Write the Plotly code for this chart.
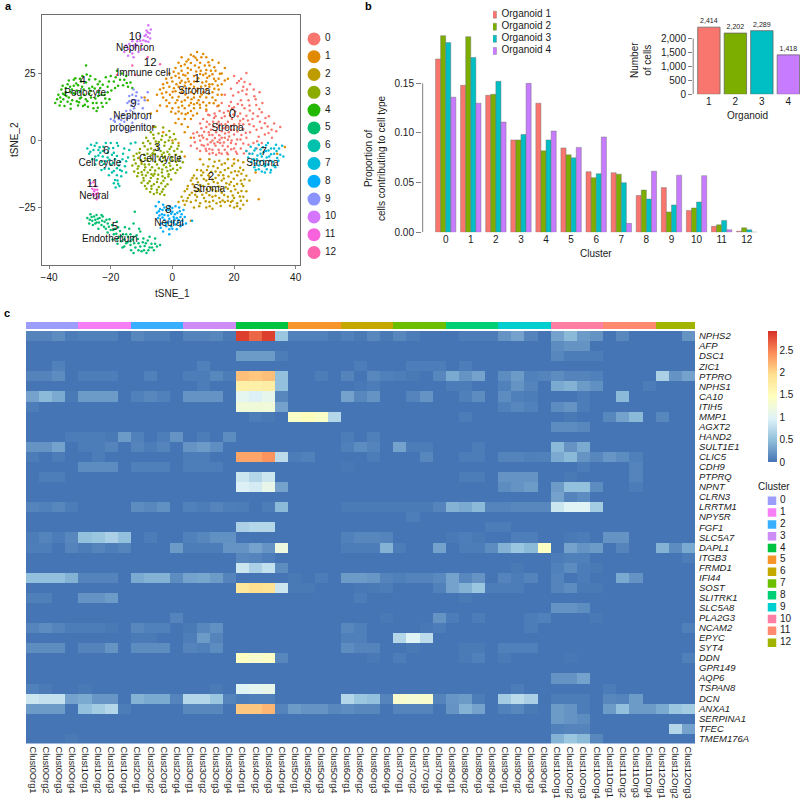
import plotly.graph_objects as go

W, H = 800, 801
FONT = "Liberation Sans"
TXT = "#1a1a1a"

# ---------- panel a data (t-SNE coordinates) ----------
hue13 = ["#F8766D","#E18A00","#BE9C00","#8CAB00","#24B700","#00BE70","#00C1AB","#00BBDA","#00ACFC","#8B93FF","#D575FE","#F962DD","#FF65AC"]
c0 = [(20,24),(22.3,23),(24,25.2),(21,21.4),(25.2,21),(23,20),(26.4,19),(28.3,18),(24,17.2),(21.4,18),(19,19.3),(17,17),(22.2,15),(27,15.4),(25,13),(29.2,14),(19,14.3),(16,14),(23.4,12),(20,12.4),(26.2,10),(29,10.5),(31.3,9),(33,6.3),(35,5),(32.2,4),(30,6.4),(28.4,7),(24,9.2),(21.2,9),(18,11),(15.3,11),(12,9.4),(10,8),(13.2,7),(16,8.4),(19.3,8),(22,7.3),(25,6),(27.3,4),(30,2.2),(32.3,1),(28,1.4),(25.2,3),(23,4.3),(21.4,5),(19,5.4),(17.2,6),(15,5),(13.3,5.2),(11,5),(9,6.3),(8,3),(10.3,3.2),(12,2),(14.2,3),(16,3.4),(18.3,3),(20,2.2),(22.4,2),(24,1),(26.3,-1),(23,-1.2),(21,0.3),(19.2,0),(17,1),(15.3,0.2),(13,0),(11.2,0.4),(9,0),(7,1),(6,-2),(8,-3),(10.2,-2),(12,-3.2),(14,-2),(16.3,-2),(18,-2.3),(20,-3),(22.2,-3),(24,-4),(21,-5),(18,-5.2),(16,-5),(14.2,-5.4),(12,-5),(11,-4),(13,-3.5),(15,-3.5),(19,-1),(17,-3.5),(9,-4),(25,-5),(27.3,-3),(29,-1),(23,8),(20,6),(17,9),(14,9),(26,8),(11,11),(22,10),(18,7),(15,7),(12,6),(10,1),(13,2),(16,1),(20,4),(23,6),(16.5,4.5),(14.5,6.2),(12.5,4),(18.4,1.5),(20.6,-1.3),(15.5,-1),(13.6,-1.2),(11.5,-1.5),(17.6,4.8),(19.8,9.7),(24.7,15),(22.7,18.5),(26.6,16.5),(9.5,-1.7),
(21.6,22.2),(23.4,21.8),(19.7,16.8),(24.2,19),(27.2,13.2),(21.2,13.6),(18.4,12.8),(25.1,11.2),(16.7,10.3),(13.7,10),(20.4,10.8),(27.7,9),(30.2,8.4),(24.5,7.4),(21.7,6.2),(18.7,9.3),(15.9,6),(13.5,8.4),(11.2,7),(26.4,5.3),(28.9,4.6),(31.2,2.8),(23.8,2.9),(21.1,3.3),(19.1,3.9),(17.1,2.6),(15.2,1.9),(13.8,0.9),(11.8,3),(9.4,4.5),(7.3,-0.7),(9.6,1.8),(12.4,-0.7),(14.7,-0.6),(16.7,-0.8),(18,0.2),(22.1,0.3),(24.7,-1.6),(27.5,-0.3),(20.6,-4.2),(23.2,-4.9),(15.2,-4.6),(10.8,-3.1),(13.1,-4.7),(17.7,-4.6),(19.1,-3.3),(19.4,12),(22.6,13.2),(28.2,11.7),(30.9,5.2),(33.7,3.4),(6.8,2.6),(8.7,1.7),(11.6,9.6),(14.6,12.7)]
c1 = [(8,33),(10,32.2),(6,32),(3,31),(5.2,30.2),(8,30),(11,31),(13,30),(2,29),(4,28.3),(7.3,28),(9,29),(12,28),(15,29),(17,27),(1,27),(3,26),(6,26.4),(9.2,26),(11,26.3),(14,26),(16,25),(-1,25),(1,24),(4.2,24.2),(7,24),(10,24.4),(12,24),(15,23),(18,23),(-2,23),(0,22),(3,22.3),(5.3,22),(8,22),(11,22),(13,21),(16,21),(-3,21),(-1,20),(2,20),(4,20.4),(7,20),(9.3,20),(12,20),(15,19),(-4,19),(-2,18),(1,18.3),(3,18),(6,18),(8,18.4),(10,18),(13,18),(16,17),(-5,17),(-3,16),(0,16),(2,16.3),(5,16),(7,16),(9,16.3),(11,16),(14,15),(-1,14),(1,14),(3,14.4),(6,14),(8,14),(10,14.2),(12,14),(15,13),(-4,13),(-7,10),(0,12),(2,12.3),(4,12),(7,12),(9,12.2),(11,11.5),(1,10),(3,10),(5,10.2),(8,10),(2,8),(4,8),(6,8),(3,6),(5,5),(-8,15),(-9,16),(-6,5),(-3,3),(4,3),(6,1),(2,-1),(0,0),(36.5,-2.5),(34,-5),(28,-22),(6,-30),(27,-12),(20,-7),(-10,-8),(9,-7),(4,-6),(5,23),(9,24.8),(2,25),(6,21),(11,19),(13,16),(4,15),(7,13.5),(10.5,28),(13.5,23),(0.5,19.5),(2.5,21.5),(8.5,15),(5,27),(12.5,26),(-2,15),(6,11),(7.5,30.8),(3.5,24.5),
(6.9,31.4),(9.4,31),(11.7,29.2),(4.6,29.4),(2.8,27.8),(6,28.9),(8.6,27.2),(13.6,27.3),(0.4,25.6),(5,25.2),(7.7,25.7),(10.8,25),(13,24.7),(15.4,24.9),(-0.3,23.4),(2.2,23.4),(8.4,23.2),(11.3,23.4),(14,22.2),(17,22.4),(-1.7,21.5),(1.3,21),(4.2,21.6),(7.1,22),(9.7,21.6),(12,21),(14.7,20.5),(-2.9,19.6),(0.1,18.2),(3.2,19.3),(5.5,19.5),(8.2,19.4),(10.7,20.4),(13.6,19.3),(-3.4,17.5),(-0.8,17),(4.2,17.1),(7,17.3),(9.5,17.1),(11.8,17.4),(14.7,17),(-1.8,12.7),(1.6,15),(6.2,15.4),(8.9,13.3),(11,13),(13.4,13.9),(3.2,12.9),(5.4,13),(-0.4,10.7),(2,10.8),(4.3,9.8),(6.7,9.3),(1,6.5),(-5,11)]
c2 = [(12,-7),(15.2,-7.6),(18,-7),(21.3,-7.5),(23,-8.2),(10,-9),(13.3,-9.6),(16,-9),(19.4,-9.5),(22,-10.2),(8,-11),(11.2,-11),(14,-11.6),(17,-11),(20.3,-11.5),(23,-11),(7,-13.1),(9.4,-13),(12,-13.6),(15,-13),(18.2,-13.5),(21,-13),(24,-13.2),(6,-15),(8.3,-15.6),(11,-15),(13.4,-15.5),(16,-15),(19,-15.5),(22.2,-15),(25,-15),(5,-17),(7.2,-17.5),(10,-17),(12.4,-17.5),(15,-17.2),(17.3,-17.5),(20,-17),(23,-17),(4,-19),(6.3,-19.5),(9,-19),(11,-19.5),(14.2,-19),(16,-19.5),(19,-19),(21.3,-19.5),(3,-21),(5,-21.5),(8,-21),(10.3,-21.5),(13,-21),(15.2,-21.5),(18,-21),(20,-21.5),(23,-21),(2,-23),(6,-23),(9,-23.5),(12,-23),(14.3,-23.5),(17,-23),(19,-23),(21,-23.5),(23,-24),(7,-25),(11,-25),(13,-25.5),(20,-25),(22,-25.5),(4,-24),(6.5,-14),(10,-12),(14,-14),(17.5,-16),(21,-16.3),(9,-16.6),(12,-20.5),(15.5,-23),(18,-18),(24,-19),(19.5,-22.5),(16.5,-13),(11.7,-13),(13,-18.4),(21,-24.6),(7.7,-19),(3.5,-22.5),
(13.7,-8),(17,-8.5),(20,-8.6),(11.6,-9.7),(14.7,-10.3),(18.1,-10.4),(21.5,-11.6),(9.3,-11.2),(12.6,-11.7),(15.6,-11.9),(19.1,-12),(22.4,-12.4),(7.9,-14.2),(10.2,-14.4),(13,-14.6),(16.7,-14.2),(19.9,-14.3),(23.4,-14.6),(6.6,-16.4),(11.7,-16.3),(14.7,-15.9),(18.5,-16.5),(22.5,-16.3),(4.8,-18.1),(8.4,-18.2),(11.2,-18.3),(15.8,-18.2),(20.4,-18.3),(22.4,-18.9),(5.6,-20.4),(7.4,-20.3),(9.7,-20.3),(14,-20.7),(16.8,-20.4),(19.6,-20.6),(21.9,-20.9),(4.6,-22.6),(7.6,-22.4),(10.8,-22.7),(13.2,-22.5),(16.3,-22.4),(18,-22.5),(22.2,-22.5),(8.7,-24.6),(12.1,-24.6),(15.7,-24.5),(18.7,-24.4),(24.2,-22.5)]
c3 = [(-5.5,5),(-3,4.8),(-1,3.5),(-7,3),(-4.5,2.6),(-2,2),(0.5,2.4),(-8.5,1),(-6,0.8),(-3.6,0.2),(-1.2,0),(1,0.4),(-9.5,-1),(-7.2,-1.2),(-5,-1.8),(-2.6,-2),(-0.4,-2.4),(2,-2),(-10.5,-3.2),(-8,-3.4),(-6,-3.8),(-3.8,-4),(-1.6,-4.2),(0.6,-4),(3,-4.2),(-11.6,-5),(-9.2,-5.4),(-7,-5.6),(-4.8,-6),(-2.4,-6),(-0.2,-6.4),(2.4,-6),(-12.4,-7.2),(-10.2,-7.4),(-8,-7.6),(-5.6,-8),(-3.4,-8),(-1,-8.4),(1.2,-8),(3.4,-8.2),(-13,-9.4),(-11,-9.6),(-8.8,-10),(-6.6,-10),(-4.4,-10.4),(-2,-10),(0.2,-10.6),(2.6,-10.2),(-12.4,-11.6),(-10,-11.8),(-8,-12),(-5.8,-12.4),(-3.4,-12),(-1.2,-12.6),(1,-12.2),(-11.4,-13.4),(-9.4,-14),(-7,-14),(-4.8,-14.4),(-2.4,-14),(-0.4,-14.6),(-10,-15.8),(-8,-16),(-6,-16.4),(-3.6,-16),(-1.6,-16.4),(-8.4,-18),(-6.8,-18),(-5,-18.4),(-3,-18.2),(-6,-20),(-4,-20),(-2.6,-20.4),(-9,-9),(-7.6,-9),(-4.2,-7.2),(-6.4,-4.8),(-9.8,-12.8),(-7.2,-11),(-4.6,-12.8),(-2.8,-4.6),(-4.4,-0.6),(-12.6,-5.8),(-0.6,-11),(-6.2,-13.2),(-3,-6.6),
(-6.2,2.1),(-3.3,1.6),(-0.8,1.2),(-7.9,-0.2),(-5.4,-0.4),(-2.4,-0.7),(0.1,-1),(-9,-2.2),(-6.9,-3),(-4.6,-3.1),(-0.9,-3.2),(1.6,-3.1),(-10.7,-4.6),(-8.1,-5),(-5.7,-5.1),(-3.4,-5.4),(-1,-5.3),(1.2,-5.4),(-11.1,-6.6),(-8.9,-6.7),(-6.7,-7),(-2.3,-7.5),(0,-7.4),(2.2,-7.3),(-11.9,-8.6),(-10,-8.7),(-5,-9),(-2.8,-9.2),(-0.7,-9.5),(1.5,-9.2),(-11.3,-10.6),(-9.1,-11),(-5.6,-11.2),(-3.3,-10.9),(-1.6,-11.4),(1.6,-11),(-11.1,-12.2),(-8.6,-13.1),(-6.8,-12.6),(-3.2,-13.4),(-1.3,-13.5),(-9.3,-15),(-7.4,-15.2),(-5,-15.5),(-2.9,-15.1),(-8.9,-17),(-6.8,-17),(-4.4,-17.4),(-2.3,-17.2),(-7.2,-19.3),(-5,-19.4),(-3.4,-19.2)]
c4 = [(-38,14),(-37,17),(-36.6,13),(-36,19),(-35.4,15.4),(-35,12.8),(-34.6,18),(-34,21),(-33.6,16),(-33,13.6),(-32.6,19),(-32,22.6),(-31.6,17.4),(-31,14.6),(-30.6,20.6),(-30,23),(-29.6,16),(-29,12.8),(-28.8,19),(-28,21.6),(-27.6,14.6),(-27,17.4),(-26.6,24),(-26,20),(-25.6,12),(-25,15.6),(-24.6,11),(-24,18),(-23.6,22),(-23,14),(-22.6,12.6),(-22,17),(-21.6,23.6),(-21,20),(-20.4,15.4),(-20,24),(-19,22),(-18.6,19.6),(-18,26),(-17,22.6),(-16.4,25),(-16,20.6),(-15,24),(-14.4,20),(-13.6,21.6),(-13,19.6),(-28,28),(-33,18),(-35,17),(-31,18.6),(-28.6,17),(-26.4,16),(-24.6,14),(-37.4,15.4),(-34,14.4),(-30,15.6),(-32,20.4),(-27,19.4),(-29.6,22),(-23.4,19.6),(-36.4,16),(-33,11.8),(-30.6,13),(-27.8,24.6),(-25,22.8),(-21.4,14),
(-36.2,14.4),(-35.5,17.4),(-34.6,19.6),(-33.2,20),(-34.4,16.6),(-32.5,15),(-32,17.6),(-31.2,21.2),(-30,18),(-29.3,20),(-30.3,14.2),(-28.1,15.4),(-28.4,13.3),(-27,22.7),(-26.5,18.4),(-25.8,14),(-25.2,19.4),(-24.1,16.6),(-24.2,21),(-24.2,12.2),(-23,17),(-22.6,20.8),(-21.8,15.6),(-21,18),(-20.6,22),(-19.8,18.6),(-18.4,23.6),(-17.6,20.4),(-15.6,22.6),(-14.8,21.4),(-29.2,24),(-31.5,23.2),(-33.6,22.4),(-35.6,20.4),(-27.4,12.6)]
c5 = [(-27.6,-29),(-26.6,-27.6),(-26,-30),(-25.4,-28.4),(-24.6,-27.8),(-24.6,-30.6),(-23.6,-29),(-23,-31.6),(-22.6,-28.4),(-22,-30.4),(-21.6,-33),(-21,-31),(-20.4,-29.4),(-20,-33.4),(-19.6,-31.6),(-19,-35),(-18.6,-33),(-18,-30.4),(-17.4,-36),(-17,-33.8),(-16.6,-37.6),(-16,-35),(-15.4,-32.4),(-15,-38.4),(-14.4,-36),(-14,-33),(-13.6,-39),(-13,-37),(-12.6,-31),(-12,-40),(-11.6,-35.4),(-11,-38.4),(-10.4,-34),(-10,-41.4),(-9.4,-36.6),(-9,-39.4),(-8.4,-42),(-8,-37.4),(-7.4,-40),(-6.8,-38.6),(-6,-41),(-5,-39.6),(-4,-39),(-25,-29.6),(-23,-27.8),(-21,-34.4),(-18,-37),(-15.6,-39.6),(-12.6,-42),(-11,-41),(-7.4,-36),(-25.8,-31.6),(-27,-31),(-24,-33),(-19.4,-37),(-16.2,-40),(-13.6,-35),(-12.2,-26.6),(-5.6,-36.6),
(-26.8,-29.6),(-26.2,-28.6),(-25,-31),(-24.2,-29.2),(-23.8,-30.6),(-22.8,-30),(-22.2,-32.2),(-21.4,-29.6),(-20.6,-32.2),(-19.2,-33.4),(-18.2,-34.8),(-17.6,-32.4),(-16.6,-35.8),(-15.6,-37),(-15,-35),(-14.6,-38),(-13.6,-37.6),(-12.4,-38.4),(-12.6,-36),(-11.2,-36.8),(-10.4,-39.6),(-9.6,-38),(-8.6,-38.4),(-7.8,-41),(-6.6,-40),(-5.6,-38.6),(-13.4,-41),(-10.8,-33),(-9.2,-41),(-17.8,-38.6)]
c6 = [(-27.6,-3),(-27,-5),(-26.4,-1.6),(-26,-7),(-25.6,-3.6),(-25,-9),(-24.6,-1),(-24,-5.6),(-23.6,-2.6),(-23,-8),(-22.6,-4),(-22,-10.6),(-21.6,-1),(-21,-6.4),(-20.6,-3),(-20,-9),(-19.6,-12),(-19,-4.6),(-18.6,-7),(-18,-10.4),(-17.6,-2),(-17,-8),(-16.6,-13.4),(-16,-5),(-15.4,-9.6),(-15,-12),(-14.4,-6.4),(-14,-3.6),(-19,-16),(-18.4,-17.6),(-17.8,-15),(-17.2,-17),(-20.6,-13),(-18,-13),(-23,-11),(-25,-6),(-21.6,-7.8),(-19.6,-5.4),(-24,-3.6),(-22.6,-6),(-20,-1),(-17,-11),(-15,-7.8),(-18,-1),(-12,-0.8),(-13.5,-1.2),
(-26.6,-4.2),(-25.2,-2),(-24.6,-7.4),(-23.4,-4.6),(-22.4,-2.4),(-22.2,-8.8),(-21,-4.6),(-20.4,-7.2),(-20.6,-10.6),(-19.2,-2.8),(-19.2,-8.4),(-18,-5.8),(-17.4,-9.4),(-16.2,-7),(-16.4,-11.4),(-15.6,-3),(-19,-11.4),(-18.6,-14.8),(-17.6,-16.2)]
c7 = [(24,-4),(24.6,-6.4),(25.4,-2.4),(25.6,-8),(26,-5),(26.6,-10),(27,-3),(27.4,-7),(28,-1.6),(28,-9.4),(28.6,-5),(29,-11.6),(29.4,-2.6),(29.6,-7.6),(30,-12),(30.4,-4),(31,-9),(31,-1),(31.4,-6),(32,-11),(32,-3),(32.6,-8),(33,-5),(33.4,-10),(33.6,-1.6),(34,-6.6),(34.6,-3),(35,-5.4),(35.6,-2),(36,-6),(29,-6),(30,-9.6),(27,-8.6),(28.6,-3.4),(31.6,-7.6),(33,-3),(26.2,-7),(30.6,-6.4),
(25,-5),(26.6,-3.8),(27.6,-5.6),(28.4,-7.8),(28,-10.8),(29.6,-4.4),(30.4,-1.8),(30.6,-10.8),(31.2,-3.8),(32,-5.2),(32.8,-9.4),(33.8,-4),(34.4,-7.6),(29.8,-8.8),(27,-11),(31.8,-12)]
c8 = [(-5.4,-24.6),(-5,-27),(-4.6,-29),(-4,-25.6),(-3.6,-31),(-3.4,-27.6),(-3,-24),(-2.6,-29.6),(-2,-26),(-2,-32),(-1.4,-28),(-1,-24.6),(-0.6,-30.4),(0,-26.6),(0,-33),(0.4,-28.6),(1,-24.6),(1,-31.4),(1.6,-27),(2,-29.6),(2.2,-25),(2.6,-32),(3,-27.6),(3.2,-30),(3.6,-26),(4,-28.6),(-4.4,-23),(-1,-35),(-3,-34),(1.4,-33.2),(-1.6,-30.6),(0.6,-29.4),(-3.2,-28.8),(-0.4,-27.4),(1.8,-30.6),(4.4,-31),(6.4,-30),
(-4.4,-26.4),(-4.2,-28),(-3.2,-26),(-2.6,-27.8),(-2.6,-25),(-2.2,-31),(-1.2,-26),(-1,-29.2),(-0.4,-32),(0,-25.2),(0.8,-27.6),(0.4,-30.6),(1.4,-29),(2.4,-26.4),(2.6,-28.6),(3.4,-31.4),(-3.8,-32.6),(-1,-33.2)]
c9 = [(-20,8),(-19,7.4),(-18.4,9),(-17.4,8),(-17,6),(-16,9.6),(-15.6,7),(-15,11),(-15,4.4),(-14.6,14),(-14,16.6),(-14,9),(-13.4,13),(-13,17),(-13,6.6),(-12.4,12),(-12,15),(-12,8),(-11.6,18),(-11,13.6),(-11,10),(-10,16),(-10,5.6),(-9.6,12),(-8.6,8),(-9,15),(-16.6,3.6),(-13.6,3.4),(-12.6,19),(-8,18),
(-14,14.6),(-13,15),(-12.6,13.8),(-11.8,16.6),(-13.6,11.2),(-12.2,10),(-16.6,7.6),(-18.6,7),(-14.8,8.2),(-11,14.8)]
c10 = [(-15.6,33),(-15,35.4),(-14.4,31.6),(-14,36),(-13.6,33.6),(-13,37),(-12.6,31),(-12,34.6),(-11.4,37),(-11,33),(-10.6,39),(-10,36),(-9.6,34),(-9,39),(-8.6,37),(-8.4,41),(-8,38.6),(-7.8,43),(-7.4,40),(-7.2,38),(-7,41.4),(-13,32.4),(-11.6,35.6),(-9.4,37.4),(-7.8,36.8),(-8,40.4),(-8.6,39.4),(-10.4,37.2),(-12.6,35.4),(-14.4,34.2)]
c11 = [(-26.6,-16),(-26,-18),(-25.6,-15.6),(-25.4,-19),(-25,-17),(-24.8,-20),(-24.4,-18.4),(-24,-21),(-25.8,-20),(-24.6,-22),(-25.2,-18.4),(-25.4,-20.6),(-24.2,-19.6)]
c12 = [(-18,24.4),(-13,28),(-4,28.4),(-12,24.4),(-8,31)]
cluster_points = [c0,c1,c2,c3,c4,c5,c6,c7,c8,c9,c10,c11,c12]
cluster_labels = [str(i) for i in range(13)]
tsne_text = [("10",-12.1,38.7,11.5),("Nephron",-12.1,34.3,10),("12",-7.2,28.7,11.5),("Immune cell",-9.4,24.8,10),("1",8,22.9,11.5),("Stroma",7.1,18.4,10),("4",-29.1,22.1,11.5),("Podocyte",-28.3,17.5,10),("9",-12.6,13.6,11.5),("Nephron",-13,9,10),("progenitor",-13,4.4,10),("0",19.5,9.5,13),("Stroma",17.9,4.4,10),("3",-4.9,-2.7,11.5),("Cell cycle",-3.9,-7.3,10),("6",-21.5,-3.9,11.5),("Cell cycle",-23.5,-8.6,10),("7",29.6,-4.5,11.5),("Stroma",29.2,-8.6,10),("2",12.5,-13.8,11.5),("Stroma",11.9,-18.3,10),("11",-25.9,-16.4,11.5),("Neural",-25.4,-21,10),("8",-1.3,-26,11.5),("Neural",-1.1,-31,10),("5",-18.6,-32.3,11.5),("Endothelium",-20.3,-36.8,10)]

# ---------- panel b data ----------
org_names = ["Organoid 1","Organoid 2","Organoid 3","Organoid 4"]
org_colors = ["#F8766D","#7CAE00","#00BFC4","#C77CFF"]
org1 = [.1745,.148,.138,.093,.130,.085,.061,.060,.037,.045,.022,.006,.001]
org2 = [.198,.197,.139,.093,.082,.078,.055,.0585,.0425,.0205,.0245,.0075,.0045]
org3 = [.191,.176,.152,.0985,.093,.075,.059,.050,.0335,.0275,.0305,.012,.0025]
org4 = [.136,.130,.111,.150,.102,.0855,.096,.009,.0615,.0575,.057,.0025,0]
cells = [2414,2202,2289,1418]

# ---------- panel c data ----------
genes = ["NPHS2","AFP","DSC1","ZIC1","PTPRO","NPHS1","CA10","ITIH5","MMP1","AGXT2","HAND2","SULT1E1","CLIC5","CDH9","PTPRQ","NPNT","CLRN3","LRRTM1","NPY5R","FGF1","SLC5A7","DAPL1","ITGB3","FRMD1","IFI44","SOST","SLITRK1","SLC5A8","PLA2G3","NCAM2","EPYC","SYT4","DDN","GPR149","AQP6","TSPAN8","DCN","ANXA1","SERPINA1","TFEC","TMEM176A"]
columns = [f"Clust{c}Org{o}" for c in range(12) for o in (1,2,3,4)] + [f"Clust12Org{o}" for o in (1,2,3)]
column_cluster = [c for c in range(12) for _ in range(4)] + [12,12,12]
expr = {
"NPHS2":{0:.1,1:.1,2:.15,3:.05,4:.08,5:.08,6:.08,8:.12,9:.08,10:.08,12:.1,13:.1,14:.12,15:.03,16:2.85,17:2.65,18:2.85,19:.55,20:.08,21:.08,22:.08,23:.03,24:.08,25:.03,26:.12,27:.03,28:.12,29:.05,33:.05,34:.05,35:.05,36:.2,37:.3,38:.1,40:.3,41:.45,42:.25,43:.2,45:.12,50:.2},
"AFP":{40:.15,41:.2,42:.2},
"DSC1":{16:.25,17:.25,18:.25,19:.05,40:.12,41:.05,42:.05,43:.05},
"ZIC1":{2:.08,13:.08,25:.05,29:.06,30:.06,31:.06,33:.06},
"PTPRO":{0:.1,1:.1,2:.15,4:.06,5:.06,6:.06,9:.08,12:.06,13:.05,14:.12,15:.05,16:2.15,17:2.1,18:2.15,19:.5,22:.05,24:.1,26:.12,27:.08,28:.06,29:.03,31:.12,32:.35,33:.2,34:.3,36:.15,37:.25,38:.08,39:.1,40:.15,41:.1,42:.1,43:.08,48:.65,49:.2,50:.3},
"NPHS1":{13:.05,16:1.7,17:1.7,18:1.75,19:.5,25:.02,26:.05,32:.05,33:.05,36:.08,37:.2,38:.1,40:.35,41:.4,42:.25,43:.18,47:.05},
"CA10":{0:.3,1:.45,2:.35,3:.03,4:.25,5:.25,6:.25,8:.08,9:.12,10:.08,12:.2,13:.2,14:.2,16:1.05,17:.95,18:1.08,19:.12,24:.3,25:.12,26:.2,29:.1,30:.2,33:.07,34:.15,36:.15,37:.07,38:.05,42:.05,45:.45},
"ITIH5":{0:.06,16:1.25,17:1.25,18:1.25,19:.3,36:.07,37:.12,38:.08,40:.15,41:.2,42:.05},
"MMP1":{17:.06,18:.03,20:1.4,21:1.5,22:1.4,23:.7,33:.05,41:.03,44:.12,45:.3,46:.45,48:.12},
"AGXT2":{40:.15,41:.15,42:.12},
"HAND2":{3:.05,4:.05,5:.05,6:.03,7:.25,8:.08,10:.06,11:.2,13:.05,15:.15,24:.05,26:.07},
"SULT1E1":{0:.2,1:.2,2:.3,4:.05,5:.05,6:.1,8:.1,9:.05,10:.1,12:.2,13:.25,14:.17,24:.07,25:.15,26:.1,28:.3,29:.05,30:.05,34:.05,40:.45,41:.2,42:.35},
"CLIC5":{0:.05,2:.05,5:.05,12:.05,13:.05,16:2.3,17:2.3,18:2.4,19:.75,20:.05,21:.08,26:.05,30:.12,33:.05,34:.05,36:.1,37:.1,38:.07,39:.08,40:.35,41:.45,42:.2,43:.12,44:.22,45:.15,46:.07},
"CDH9":{4:.15,5:.15,6:.15,8:.07,9:.07,10:.07,12:.06,13:.06,14:.06,24:.02,42:.05,46:.1},
"PTPRQ":{1:.06,2:.06,16:.85,17:.7,18:.85,33:.05,34:.05,36:.2,37:.2,38:.2,41:.03,46:.1},
"NPNT":{16:.95,17:.9,18:1.1,19:.3,36:.15,37:.2,38:.25,40:.25,41:.5,42:.5,43:.15,46:.05},
"CLRN3":{40:.3,41:.1,42:.15},
"LRRTM1":{0:.1,1:.08,2:.12,3:.05,8:.15,9:.12,10:.18,12:.08,13:.05,14:.1,15:.06,16:.05,18:.05,19:.45,24:.04,25:.04,26:.04,27:.04,28:.04,29:.04,30:.04,31:.1,32:.4,33:.35,34:.45,35:.1,36:.1,37:.12,38:.12,39:.12,40:.85,41:1.0,42:1.0,43:.6},
"NPY5R":{29:.06},
"FGF1":{16:.65,17:.7,18:.7,35:.05,36:.05},
"SLC5A7":{0:.05,1:.1,2:.05,3:.12,4:.5,5:.55,6:.65,7:.5,9:.05,12:.08,13:.12,14:.18,15:.18,24:.08,25:.12,26:.12,27:.1,32:.03,33:.06,34:.03,37:.06,38:.06,41:.03,42:.05,44:.2,45:.2},
"DAPL1":{0:.06,1:.06,3:.1,4:.05,5:.1,6:.06,7:.1,11:.25,12:.05,13:.05,14:.05,15:.2,16:.2,17:.3,18:.2,19:1.2,24:.05,25:.05,26:.05,27:.4,28:.05,31:.3,33:.05,34:.05,35:.15,36:.4,37:.55,38:.45,39:1.45,41:.3,42:.2,43:.25,45:.1,48:.4,49:.15,50:.35},
"ITGB3":{16:.12,17:.1,18:.06,40:.05,41:.07,42:.07,50:.05},
"FRMD1":{16:.85,17:.65,18:.8,19:.15,37:.03,40:.08,41:.15,42:.05,43:.03},
"IFI44":{0:.5,1:.5,2:.5,3:.4,4:.1,5:.1,6:.1,8:.35,9:.4,10:.4,11:.15,12:.3,13:.33,14:.25,15:.1,20:.03,22:.05,24:.25,25:.25,26:.22,27:.1,28:.07,29:.1,30:.1,31:.13,32:.3,33:.12,34:.2,36:.1,37:.05,38:.1,40:.1,42:.05,45:.35,46:.2},
"SOST":{16:1.85,17:1.95,18:1.9,19:.85,20:.03,21:.03,25:.02,26:.03,27:.05,31:.08,32:.3,33:.4,34:.55,35:.05,36:.05,37:.05,40:.1,41:.15,42:.03,43:.03},
"SLITRK1":{0:.07,1:.07,4:.2,5:.2,6:.25,25:.05,33:.03},
"SLC5A8":{40:.2,41:.2,42:.15},
"PLA2G3":{11:.1,27:.03,31:.2,32:.05,34:.05,38:.05,39:.08,43:.03},
"NCAM2":{0:.1,1:.15,2:.1,3:.05,4:.05,5:.05,6:.03,8:.12,9:.08,10:.08,12:.03,13:.12,14:.18,24:.12,25:.07,30:.02,31:.05,38:.05,50:.07},
"EPYC":{8:.04,9:.04,12:.06,13:.25,14:.1,24:.07,25:.07,28:.7,29:1.0,30:.75},
"SYT4":{0:.15,1:.15,2:.15,4:.1,5:.1,6:.2,8:.15,9:.15,10:.15,12:.1,13:.07,14:.15,24:.15,25:.1,26:.1,29:.03,33:.04,34:.04,36:.08,37:.08,38:.07},
"DDN":{16:1.45,17:1.35,18:1.4,19:.12,26:.03,28:.05,33:.04,34:.08,36:.04,41:.02,50:.07},
"GPR149":{},
"AQP6":{40:.2,41:.2,42:.3},
"TSPAN8":{0:.08,1:.04,4:.03,14:.04,16:1.0,17:1.05,18:1.1,37:.05,44:.05},
"DCN":{0:.85,1:.8,2:.8,3:.3,4:.35,5:.22,6:.22,8:.4,9:.35,10:.35,11:.1,12:.7,13:.7,14:.55,15:.1,16:.05,17:.08,18:.08,24:.7,25:.55,26:.5,27:.1,28:1.35,29:1.3,30:1.35,31:.1,32:.22,33:.25,34:.05,36:.6,37:.75,38:.65,40:.05,41:.05,42:.05,44:.12,45:.1,46:.25},
"ANXA1":{0:.25,1:.25,2:.25,4:.5,5:.6,6:.7,7:.05,12:.12,13:.12,14:.12,16:2.1,17:2.1,18:2.2,19:.1,20:.25,21:.2,22:.2,23:.12,24:.15,25:.12,26:.12,28:.1,29:.1,30:.1,32:.2,33:.4,34:.3,36:.08,37:.12,38:.03,40:.25,41:.2,42:.05,44:.25,45:.5,46:.25,47:.25,48:.35,49:.55,50:.6},
"SERPINA1":{40:.25,41:.2,42:.15},
"TFEC":{40:.08,41:.1,42:.1,49:.7,50:.3},
"TMEM176A":{3:.03,40:.4,41:.55,42:.45,43:.12},
}
z = [[expr[g].get(c, 0.0) for c in range(len(columns))] for g in genes]
bar_colors = ["#9C9CFA","#F77FF6","#38AEFF","#CE8DF6","#00C33F","#F6952B","#C4A800","#6CBE00","#00CF75","#00CFCF","#FF7FA4","#FF8A70","#A0B400"]
heat_scale = [[0,"#4575B4"],[1/6,"#91BFDB"],[2/6,"#E0F3F8"],[3/6,"#FFFFBF"],[4/6,"#FEE090"],[5/6,"#FC8D59"],[1,"#D73027"]]

# ---------- layout helpers (pixel boxes to paper fractions) ----------
def dx(a, b): return [a / W, b / W]
def dy(top, bottom): return [1 - bottom / H, 1 - top / H]
def label(x, y, text, size=10, angle=0, anchor="center", weight=None):
    return dict(xref="paper", yref="paper", x=x / W, y=1 - y / H, text=text, showarrow=False, textangle=angle,
                xanchor=anchor, yanchor="middle", font=dict(size=size, family=FONT, color="#000" if weight else TXT))

fig = go.Figure()
BLANK = dict(showgrid=False, zeroline=False, showticklabels=False, ticks="", showline=False)

# panel a
for i, pts in enumerate(cluster_points):
    fig.add_trace(go.Scatter(x=[p[0] for p in pts], y=[p[1] for p in pts], mode="markers", xaxis="x", yaxis="y",
                             marker=dict(size=2.5, color=hue13[i], line_width=0), showlegend=False))
fig.add_trace(go.Scatter(x=[t[1] for t in tsne_text], y=[t[2] for t in tsne_text], text=[t[0] for t in tsne_text], mode="text",
                         xaxis="x", yaxis="y", textposition="middle center", showlegend=False,
                         textfont=dict(size=[t[3] for t in tsne_text], family=FONT, color="#111")))
# panel a legend
fig.add_trace(go.Scatter(x=[9]*13, y=list(range(13)), mode="markers", xaxis="x2", yaxis="y2", showlegend=False,
                         marker=dict(size=13, color=hue13, line_width=0)))
fig.add_trace(go.Scatter(x=[20]*13, y=list(range(13)), text=cluster_labels, mode="text", xaxis="x2", yaxis="y2", showlegend=False,
                         textposition="middle right", textfont=dict(size=10, family=FONT, color=TXT)))
# panel b
for name, col, vals in zip(org_names, org_colors, [org1, org2, org3, org4]):
    fig.add_trace(go.Bar(x=list(range(13)), y=vals, name=name, marker=dict(color=col, line=dict(color="rgba(110,110,110,0.55)", width=0.8)),
                         xaxis="x3", yaxis="y3", showlegend=False))
# panel b legend
for i, (name, col) in enumerate(zip(org_names, org_colors)):
    fig.add_trace(go.Scatter(x=[0], y=[i], mode="markers", xaxis="x6", yaxis="y6", showlegend=False,
                             marker=dict(symbol="square", size=7, color=col, line=dict(color="rgba(110,110,110,0.6)", width=0.6))))
    fig.add_trace(go.Scatter(x=[8.5], y=[i], mode="text", text=[name], textposition="middle right", xaxis="x6", yaxis="y6", showlegend=False,
                             textfont=dict(size=10, family=FONT, color=TXT)))
# inset
fig.add_trace(go.Bar(x=[1,2,3,4], y=cells, xaxis="x4", yaxis="y4", showlegend=False, width=0.845,
                     marker=dict(color=org_colors, line=dict(color="rgba(100,100,100,0.75)", width=1)),
                     text=[f"{c:,}" for c in cells], textposition="outside", cliponaxis=False,
                     textfont=dict(size=7, family=FONT, color=TXT)))
# heatmap
fig.add_trace(go.Heatmap(z=z, x=list(range(len(columns))), y=list(range(len(genes))), xaxis="x5", yaxis="y5", zmin=0, zmax=2.93,
                         colorscale=heat_scale, xgap=0, ygap=0,
                         colorbar=dict(x=768/W, xanchor="left", xpad=0, ypad=0, y=1-331/H, yanchor="top", len=131/H, lenmode="fraction",
                                       thickness=9, thicknessmode="pixels", outlinewidth=0, tickvals=[0,.5,1,1.5,2,2.5],
                                       ticktext=["0","0.5","1","1.5","2","2.5"], ticks="", tickfont=dict(size=10, family=FONT, color=TXT))))
# annotation strip
n = len(bar_colors)
strip_scale = []
for i, c in enumerate(bar_colors):
    strip_scale += [[i / n, c], [(i + 1) / n, c]]
fig.add_trace(go.Heatmap(z=[column_cluster], x=list(range(len(columns))), y=[0], xaxis="x7", yaxis="y7", zmin=-0.5, zmax=12.5,
                         colorscale=strip_scale, showscale=False))
# cluster legend
fig.add_trace(go.Scatter(x=[12]*13, y=list(range(13)), mode="markers", xaxis="x8", yaxis="y8", showlegend=False,
                         marker=dict(symbol="square", size=8.5, color=bar_colors, line_width=0)))
fig.add_trace(go.Scatter(x=[20]*13, y=list(range(13)), text=cluster_labels, mode="text", xaxis="x8", yaxis="y8", showlegend=False,
                         textposition="middle right", textfont=dict(size=10, family=FONT, color=TXT)))

GRAY = "#7f7f7f"
tickf = dict(size=10, family=FONT, color=TXT)
fig.update_layout(
    width=W, height=H, margin=dict(l=0, r=0, t=0, b=0, autoexpand=False), paper_bgcolor="white", plot_bgcolor="white",
    font=dict(family=FONT, color=TXT, size=10), bargap=0.187, bargroupgap=0, barmode="group",
    xaxis=dict(domain=dx(41.7,300), range=[-42.4,41.4], tickvals=[-40,-20,0,20,40], ticktext=["\u221240","\u221220","0","20","40"], ticks="outside", ticklen=3, tickcolor=GRAY,
               showgrid=False, zeroline=False, showline=True, linecolor="#6e6e6e", linewidth=1, mirror=True, tickfont=tickf),
    yaxis=dict(domain=dy(15,265), range=[-46.5,46.8], tickvals=[-25,0,25], ticktext=["\u221225","0","25"], ticks="outside", ticklen=3, tickcolor=GRAY,
               showgrid=False, zeroline=False, showline=True, linecolor="#6e6e6e", linewidth=1, mirror=True, tickfont=tickf),
    xaxis2=dict(domain=dx(305,345), range=[0,40], anchor="y2", **BLANK),
    yaxis2=dict(domain=dy(30,261.4), range=[12.5,-0.5], anchor="x2", **BLANK),
    xaxis3=dict(domain=dx(422,760), range=[-0.945,12.53], anchor="y3", tickvals=list(range(13)), ticks="", showgrid=False, zeroline=False, showline=False, tickfont=tickf),
    yaxis3=dict(domain=dy(30,232.3), range=[0,0.2037], anchor="x3", tickvals=[0,.05,.1,.15], tickformat=".2f", ticks="outside", ticklen=5, tickcolor=GRAY,
                showgrid=False, zeroline=False, showline=False, tickfont=tickf),
    xaxis6=dict(domain=dx(493,560), range=[0,67], anchor="y6", **BLANK),
    yaxis6=dict(domain=dy(8.6,57), range=[3.5,-0.5], anchor="x6", **BLANK),
    xaxis4=dict(domain=dx(693,800), range=[0.4,4.44], anchor="y4", tickvals=[1,2,3,4], ticks="", showgrid=False, zeroline=False, showline=False, tickfont=tickf),
    yaxis4=dict(domain=dy(20,94.3), range=[0,2672], anchor="x4", tickvals=[0,500,1000,1500,2000], tickformat=",", ticks="outside", ticklen=4, tickcolor=GRAY,
                showgrid=False, zeroline=False, showline=False, tickfont=tickf),
    xaxis5=dict(domain=dx(26,695), range=[-0.5,50.5], anchor="y5", tickvals=list(range(len(columns))), ticktext=columns, tickangle=90, ticks="", showgrid=False,
                zeroline=False, showline=False, tickfont=dict(size=9.3, family=FONT, color=TXT), automargin=False, ticklabelstandoff=2),
    yaxis5=dict(domain=dy(331,743.5), range=[40.5,-0.5], anchor="x5", side="right", tickvals=list(range(len(genes))), ticktext=[f"<i>{g}</i>" for g in genes], ticks="",
                showgrid=False, zeroline=False, showline=False, tickfont=dict(size=9.5, family=FONT, color=TXT), automargin=False, ticklabelstandoff=3),
    xaxis7=dict(domain=dx(26,695), range=[-0.5,50.5], anchor="y7", **BLANK),
    yaxis7=dict(domain=dy(322,329), range=[-0.5,0.5], anchor="x7", **BLANK),
    xaxis8=dict(domain=dx(760,800), range=[0,40], anchor="y8", **BLANK),
    yaxis8=dict(domain=dy(494.8,648.6), range=[12.5,-0.5], anchor="x8", **BLANK),
    shapes=[dict(type="line", xref="x3 domain", x0=0.002, x1=0.002, yref="y3", y0=0, y1=.15, line=dict(color=GRAY, width=1)),
            dict(type="line", xref="x4 domain", x0=0.002, x1=0.002, yref="y4", y0=0, y1=2000, line=dict(color=GRAY, width=1))],
    annotations=[
        label(3,6,"<b>a</b>",11,anchor="left",weight=700),
        label(363,6,"<b>b</b>",11,anchor="left",weight=700),
        label(2,313,"<b>c</b>",11,anchor="left",weight=700),
        label(172,293,"tSNE_1"),
        label(14,140,"tSNE_2",angle=-90),
        label(596,253,"Cluster"),
        label(747,115,"Organoid"),
        label(375,158,"Proportion of<br>cells contributing to cell type",angle=-90),
        label(641,60,"Number<br>of cells",angle=-90),
        label(774,486,"Cluster"),
    ],
)
fig.write_html("out.html", config={"displayModeBar": False}, post_script="document.body.style.margin='0';")
